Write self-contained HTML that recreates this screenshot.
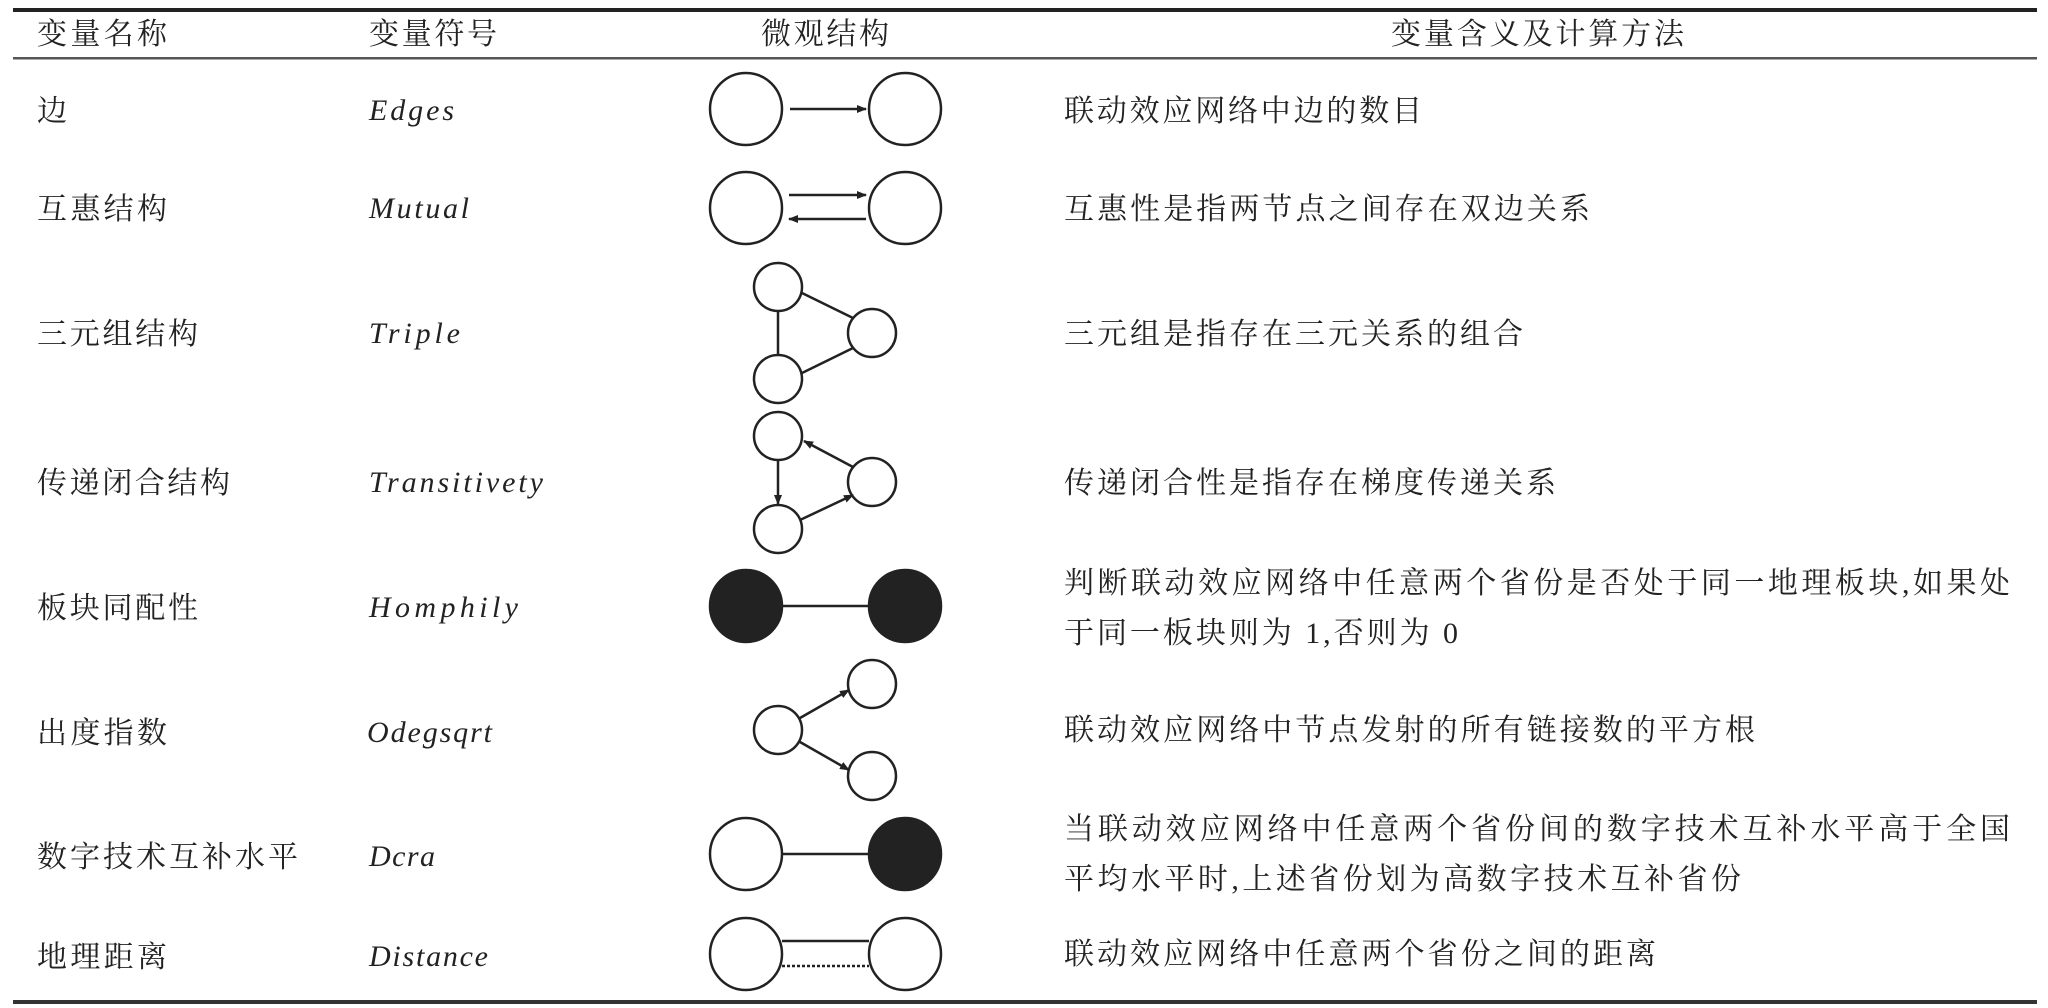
<!DOCTYPE html>
<html><head><meta charset="utf-8"><style>
html,body{margin:0;padding:0;background:#fff;}
svg{display:block;}
.c{font-family:"Liberation Serif","Noto Serif CJK SC","Noto Sans CJK SC",serif;font-size:30px;fill:#222;}
.i{font-family:"Liberation Serif",serif;font-style:italic;font-size:30px;fill:#222;}
</style></head><body>
<svg width="2048" height="1008" viewBox="0 0 2048 1008" xmlns="http://www.w3.org/2000/svg">
<defs>
<marker id="a" markerWidth="10" markerHeight="8" refX="9" refY="4" orient="auto" markerUnits="userSpaceOnUse">
<path d="M0,0 L10,4 L0,8 Z" fill="#222"/></marker>
</defs>
<rect x="13" y="8" width="2024" height="4" fill="#222"/>
<rect x="13" y="57" width="2024" height="2.5" fill="#555"/>
<rect x="13" y="1000" width="2024" height="4" fill="#333"/>

<g class="c">
<text x="37" y="44" textLength="130" lengthAdjust="spacing">变量名称</text>
<text x="369" y="44" textLength="128" lengthAdjust="spacing">变量符号</text>
<text x="761" y="44" textLength="128" lengthAdjust="spacing">微观结构</text>
<text x="1391" y="44" textLength="293" lengthAdjust="spacing">变量含义及计算方法</text>

<text x="37" y="121">边</text>
<text x="37" y="219" textLength="130" lengthAdjust="spacing">互惠结构</text>
<text x="37" y="344" textLength="161" lengthAdjust="spacing">三元组结构</text>
<text x="37" y="493" textLength="193" lengthAdjust="spacing">传递闭合结构</text>
<text x="37" y="618" textLength="161" lengthAdjust="spacing">板块同配性</text>
<text x="37" y="743" textLength="130" lengthAdjust="spacing">出度指数</text>
<text x="37" y="867" textLength="261" lengthAdjust="spacing">数字技术互补水平</text>
<text x="37" y="967" textLength="130" lengthAdjust="spacing">地理距离</text>

<text x="1064" y="121" textLength="358" lengthAdjust="spacing">联动效应网络中边的数目</text>
<text x="1064" y="219" textLength="526" lengthAdjust="spacing">互惠性是指两节点之间存在双边关系</text>
<text x="1064" y="344" textLength="459" lengthAdjust="spacing">三元组是指存在三元关系的组合</text>
<text x="1064" y="493" textLength="492" lengthAdjust="spacing">传递闭合性是指存在梯度传递关系</text>
<text x="1064" y="593" textLength="946" lengthAdjust="spacing">判断联动效应网络中任意两个省份是否处于同一地理板块,如果处</text>
<text x="1064" y="643" textLength="394" lengthAdjust="spacing">于同一板块则为 1,否则为 0</text>
<text x="1064" y="740" textLength="691" lengthAdjust="spacing">联动效应网络中节点发射的所有链接数的平方根</text>
<text x="1064" y="839" textLength="946" lengthAdjust="spacing">当联动效应网络中任意两个省份间的数字技术互补水平高于全国</text>
<text x="1064" y="889" textLength="677" lengthAdjust="spacing">平均水平时,上述省份划为高数字技术互补省份</text>
<text x="1064" y="964" textLength="592" lengthAdjust="spacing">联动效应网络中任意两个省份之间的距离</text>
</g>

<g class="i">
<text x="369" y="120" textLength="85" lengthAdjust="spacing">Edges</text>
<text x="369" y="218" textLength="100" lengthAdjust="spacing">Mutual</text>
<text x="369" y="343" textLength="91" lengthAdjust="spacing">Triple</text>
<text x="369" y="492" textLength="174" lengthAdjust="spacing">Transitivety</text>
<text x="369" y="617" textLength="149" lengthAdjust="spacing">Homphily</text>
<text x="367" y="742" textLength="125" lengthAdjust="spacing">Odegsqrt</text>
<text x="369" y="866" textLength="66" lengthAdjust="spacing">Dcra</text>
<text x="369" y="966" textLength="119" lengthAdjust="spacing">Distance</text>
</g>

<g stroke="#222" stroke-width="2.5" fill="#fff">
<!-- Edges -->
<circle cx="746" cy="109" r="36"/><circle cx="905" cy="109" r="36"/>
<line x1="790" y1="109" x2="866" y2="109" marker-end="url(#a)"/>
<!-- Mutual -->
<circle cx="746" cy="208" r="36"/><circle cx="905" cy="208" r="36"/>
<line x1="789" y1="195" x2="866" y2="195" marker-end="url(#a)"/>
<line x1="866" y1="219" x2="789" y2="219" marker-end="url(#a)"/>
<!-- Triple -->
<circle cx="778" cy="287" r="24"/><circle cx="872" cy="333" r="24"/><circle cx="778" cy="379" r="24"/>
<line x1="778" y1="311" x2="778" y2="355"/>
<line x1="802" y1="293" x2="853" y2="318"/>
<line x1="802" y1="373" x2="853" y2="348"/>
<!-- Transitivety -->
<circle cx="778" cy="436" r="24"/><circle cx="872" cy="482" r="24"/><circle cx="778" cy="529" r="24"/>
<line x1="778" y1="460" x2="778" y2="504" marker-end="url(#a)"/>
<line x1="853" y1="467" x2="804" y2="441" marker-end="url(#a)"/>
<line x1="800" y1="520" x2="853" y2="495" marker-end="url(#a)"/>
<!-- Homphily -->
<line x1="782" y1="606" x2="869" y2="606"/>
<circle cx="746" cy="606" r="36" fill="#222"/><circle cx="905" cy="606" r="36" fill="#222"/>
<!-- Odegsqrt -->
<circle cx="778" cy="730" r="24"/><circle cx="872" cy="684" r="24"/><circle cx="872" cy="776" r="24"/>
<line x1="800" y1="718" x2="849" y2="690" marker-end="url(#a)"/>
<line x1="800" y1="742" x2="849" y2="770" marker-end="url(#a)"/>
<!-- Dcra -->
<line x1="782" y1="854" x2="869" y2="854"/>
<circle cx="746" cy="854" r="36"/><circle cx="905" cy="854" r="36" fill="#222"/>
<!-- Distance -->
<line x1="782" y1="941" x2="869" y2="941"/>
<line x1="782" y1="966" x2="869" y2="966" stroke-dasharray="3,2"/>
<circle cx="746" cy="954" r="36"/><circle cx="905" cy="954" r="36"/>
</g>
</svg>
</body></html>
